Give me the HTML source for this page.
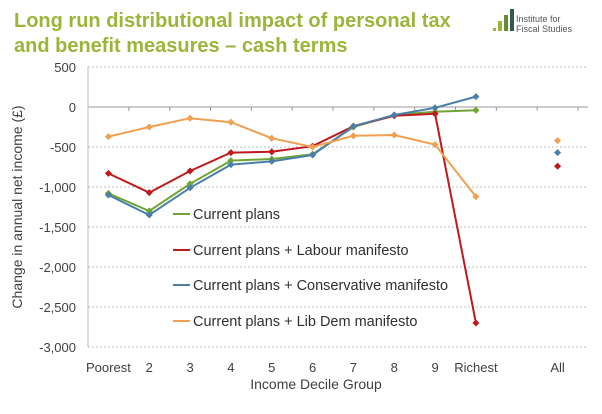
<!DOCTYPE html>
<html><head><meta charset="utf-8"><style>
body{margin:0;background:#fff;}
svg text{font-family:"Liberation Sans",sans-serif;}
</style></head><body>
<svg width="602" height="409" viewBox="0 0 602 409">
<text x="14" y="27" font-size="20" font-weight="bold" fill="#9bb53a">Long run distributional impact of personal tax</text>
<text x="14" y="52" font-size="20" font-weight="bold" fill="#9bb53a">and benefit measures – cash terms</text>
<g>
<rect x="493" y="28" width="3" height="3" fill="#9bb53a"/>
<rect x="498" y="21" width="4" height="10" fill="#9bb53a"/>
<rect x="504" y="15" width="4" height="16" fill="#6a8a3a"/>
<rect x="510" y="9" width="4" height="22" fill="#2f5c4a"/>
<text x="516" y="22" font-size="9" font-family="Liberation Serif" fill="#555">Institute for</text>
<text x="516" y="32" font-size="9" font-family="Liberation Serif" fill="#555">Fiscal Studies</text>
</g>
<g id="grid"></g>
<g id="marks"></g>
<g id="legend"></g>
<text transform="translate(22,207) rotate(-90)" text-anchor="middle" font-size="14" fill="#404040">Change in annual net income (£)</text>
<text x="316" y="389" text-anchor="middle" font-size="14" fill="#404040">Income Decile Group</text>
</svg>
<script>
const categories=["Poorest","2","3","4","5","6","7","8","9","Richest","","All"];
const yTicks=[500,0,-500,-1000,-1500,-2000,-2500,-3000];
const yTickLabels=["500","0","-500","-1,000","-1,500","-2,000","-2,500","-3,000"];
const seriesNames=["Current plans","Current plans + Labour manifesto","Current plans + Conservative manifesto","Current plans + Lib Dem manifesto"];
const current=[-1080,-1300,-960,-670,-650,-590,-250,-100,-60,-40];
const labour=[-830,-1070,-800,-570,-560,-490,-240,-110,-85,-2700];
const conservative=[-1100,-1350,-1010,-720,-680,-600,-240,-100,-10,130];
const libdem=[-370,-250,-140,-190,-390,-500,-360,-350,-470,-1120];
const allValues=[null,-740,-570,-420];
const colors=["#6fa532","#c0191c","#4a7fa8","#f0a050"];
const NS="http://www.w3.org/2000/svg";
const x0=88,x1=578,yTop=67,yBot=347;
const xs=i=>x0+(i+0.5)*(x1-x0)/categories.length;
const ys=v=>yTop+(500-v)/3500*(yBot-yTop);
function mk(t,a,p){const e=document.createElementNS(NS,t);for(const k in a)e.setAttribute(k,a[k]);p.appendChild(e);return e;}
const grid=document.getElementById('grid'),marks=document.getElementById('marks'),leg=document.getElementById('legend');
yTicks.forEach((v,i)=>{
 const l=mk('line',{x1:x0,x2:588,y1:ys(v),y2:ys(v),stroke:v===0?'#999':'#bbb','stroke-dasharray':v===0?'':'2,2','stroke-width':1},grid);
 
 
 const t=mk('text',{x:76,y:ys(v)+5,'text-anchor':'end','font-size':13,fill:'#404040'},grid);
 t.textContent=yTickLabels[i];
 
 
});
const ax=mk('line',{x1:x0,x2:x0,y1:yTop,y2:yBot,stroke:'#bbb'},grid);


categories.forEach((c,i)=>{
 const tk=mk('line',{x1:x0+(i+1)*(x1-x0)/categories.length,x2:x0+(i+1)*(x1-x0)/categories.length,y1:ys(0),y2:ys(0)+4,stroke:'#999'},grid);
 
 
 const t=mk('text',{x:xs(i),y:372,'text-anchor':'middle','font-size':13,fill:'#404040'},grid);
 t.textContent=c;
 
 
});
[current,labour,conservative,libdem].forEach((d,s)=>{
 const pts=d.map((v,i)=>xs(i)+','+ys(v)).join(' ');
 const pl=mk('polyline',{points:pts,fill:'none',stroke:colors[s],'stroke-width':2},marks);
 
 
 d.forEach((v,i)=>{
  const m=mk('rect',{x:xs(i)-2.5,y:ys(v)-2.5,width:5,height:5,fill:colors[s],transform:`rotate(45 ${xs(i)} ${ys(v)})`},marks);
  
  
 });
 if(allValues[s]!==null){
  const a=mk('rect',{x:xs(11)-2.5,y:ys(allValues[s])-2.5,width:5,height:5,fill:colors[s],transform:`rotate(45 ${xs(11)} ${ys(allValues[s])})`},marks);
  
  
 }
 const ly=[214,250,285,321][s];
 const ll=mk('line',{x1:173,x2:190,y1:ly,y2:ly,stroke:colors[s],'stroke-width':2},leg);
 
 
 const lt=mk('text',{x:193,y:ly+5,'font-size':14.5,fill:'#303030'},leg);
 lt.textContent=seriesNames[s];
 
 
});
</script>
</body></html>
